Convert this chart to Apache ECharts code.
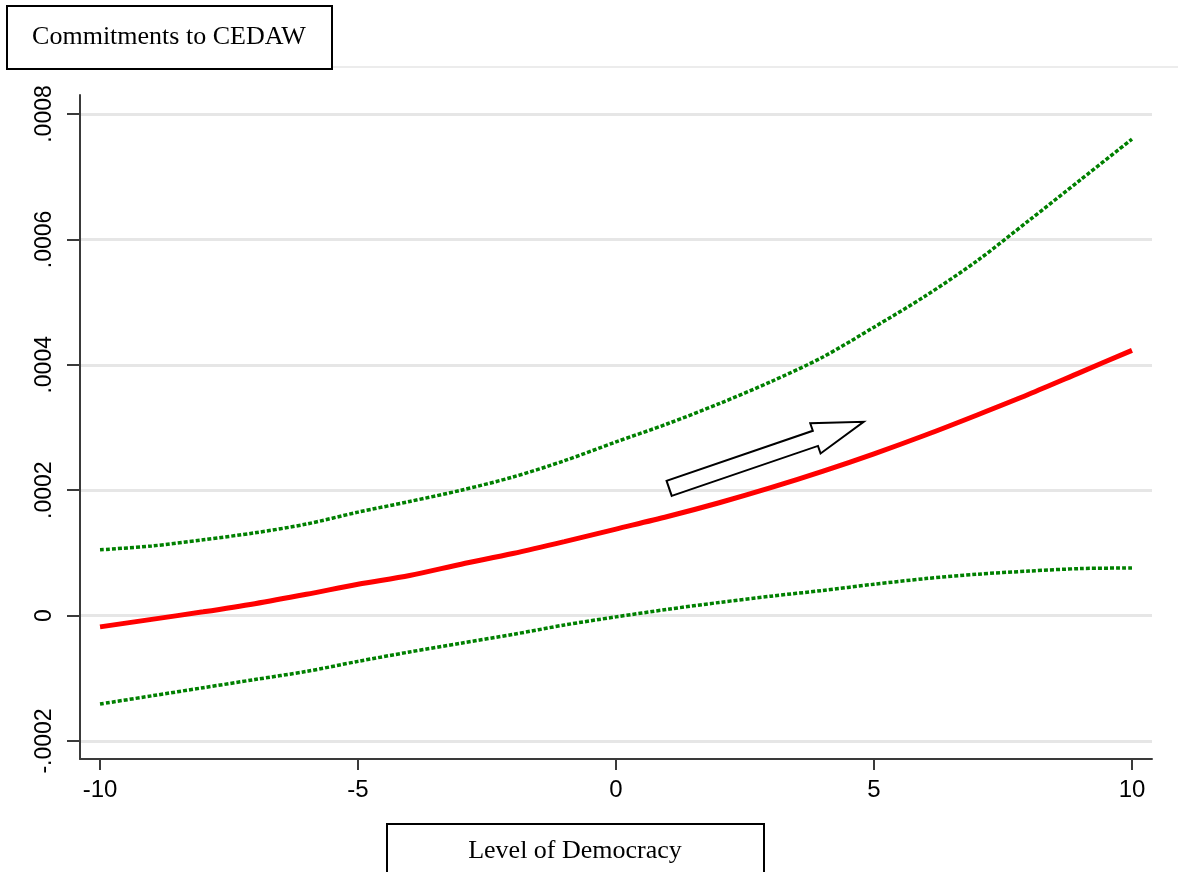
<!DOCTYPE html>
<html>
<head>
<meta charset="utf-8">
<script src="https://cdn.jsdelivr.net/npm/echarts@6/dist/echarts.min.js"></script>
<style>
html,body{margin:0;padding:0;background:#fff;}
#chart{width:1178px;height:872px;}
</style>
</head>
<body>
<div id="chart"></div>
<script>
// ---- data ----
const democracy = [-10,-9,-8,-7,-6,-5,-4,-3,-2,-1,0,1,2,3,4,5,6,7,8,9,10];
const predicted = [-0.000018,-0.000006,0.000006,0.000019,0.000034,0.000050,0.000064,0.000082,0.000099,0.000118,0.000138,0.000158,0.000180,0.000204,0.000230,0.000258,0.000288,0.000320,0.000353,0.000388,0.000423];
const upperCI  = [0.000105,0.000111,0.000121,0.000132,0.000146,0.000165,0.000182,0.000200,0.000221,0.000247,0.000277,0.000306,0.000338,0.000373,0.000412,0.000460,0.000510,0.000566,0.000630,0.000695,0.000760];
const lowerCI  = [-0.000141,-0.000128,-0.000115,-0.000102,-0.000089,-0.000073,-0.000058,-0.000044,-0.000030,-0.000015,-0.000002,0.000010,0.000021,0.000031,0.000040,0.000050,0.000059,0.000066,0.000071,0.000075,0.000076];
const xTicks = [-10,-5,0,5,10];
const yTicks = [-0.0002,0,0.0002,0.0004,0.0006,0.0008];
const yTickLabels = ['-.0002','0','.0002','.0004','.0006','.0008'];
const arrowFrom = [1.03, 0.000203];
const arrowTo = [4.80, 0.000309];
const titleText = 'Commitments to CEDAW';
const xTitleText = 'Level of Democracy';

const pairs = arr => democracy.map((x,i)=>[x,arr[i]]);

const chart = echarts.init(document.getElementById('chart'), null, {renderer:'canvas'});
const axisColor = '#3a3a3a';
const option = {
  backgroundColor:'#fff',
  animation:false,
  grid:{left:80,right:26,top:95,bottom:113,containLabel:false},
  xAxis:{
    type:'value', min:-10.388, max:10.388,
    axisLine:{show:true,onZero:false,lineStyle:{color:axisColor,width:2}},
    axisTick:{show:true,length:11,lineStyle:{color:axisColor,width:2},customValues:xTicks},
    axisLabel:{customValues:xTicks,margin:19,fontFamily:'Liberation Sans, Arial, sans-serif',fontSize:24,color:'#000',
      formatter:v=>String(Math.round(v))},
    splitLine:{show:false}
  },
  yAxis:{
    type:'value', min:-0.0002287, max:0.0008303,
    axisLine:{show:true,onZero:false,lineStyle:{color:axisColor,width:2}},
    axisTick:{show:true,length:13,lineStyle:{color:axisColor,width:2},customValues:yTicks},
    axisLabel:{customValues:yTicks,rotate:90,margin:24,fontFamily:'Liberation Sans, Arial, sans-serif',fontSize:23,color:'#000',
      formatter:v=>{let best=0;yTicks.forEach((t,i)=>{if(Math.abs(t-v)<Math.abs(yTicks[best]-v))best=i;});return yTickLabels[best];}},
    splitLine:{show:true,lineStyle:{color:'#e6e6e6',width:3}}
  },
  graphic:[
    {type:'line',shape:{x1:332,y1:67,x2:1178,y2:67},style:{stroke:'#ececec',lineWidth:2},z:1},
    {type:'rect',shape:{x:7,y:6,width:325,height:63},style:{fill:'#fff',stroke:'#000',lineWidth:2},z:2},
    {type:'text',x:169,y:37,style:{text:titleText,font:'26px "Liberation Serif", "Times New Roman", serif',fill:'#000',textAlign:'center',textVerticalAlign:'middle'},z:3},
    {type:'rect',shape:{x:387,y:824,width:377,height:60},style:{fill:'#fff',stroke:'#000',lineWidth:2},z:2},
    {type:'text',x:575,y:851,style:{text:xTitleText,font:'26px "Liberation Serif", "Times New Roman", serif',fill:'#000',textAlign:'center',textVerticalAlign:'middle'},z:3}
  ],
  series:[
    {type:'line',name:'upper',data:pairs(upperCI),symbol:'none',smooth:0.3,
      lineStyle:{color:'#008000',width:3.5,type:[4,2]},z:3},
    {type:'line',name:'lower',data:pairs(lowerCI),symbol:'none',smooth:0.3,
      lineStyle:{color:'#008000',width:3.5,type:[4,2]},z:3},
    {type:'line',name:'predicted',data:pairs(predicted),symbol:'none',smooth:0.3,
      lineStyle:{color:'#ff0000',width:5},z:4},
    {type:'custom',name:'arrow',clip:false,z:5,
      encode:{x:[0,2],y:[1,3]},
      data:[[arrowFrom[0],arrowFrom[1],arrowTo[0],arrowTo[1]]],
      renderItem:(params,api)=>{
        const a=api.coord([api.value(0),api.value(1)]);
        const b=api.coord([api.value(2),api.value(3)]);
        const dx=b[0]-a[0], dy=b[1]-a[1];
        const L=Math.sqrt(dx*dx+dy*dy);
        const ux=dx/L, uy=dy/L, nx=-uy, ny=ux;
        const sw=8, hw=16, hl=51;
        const bx=b[0]-ux*hl, by=b[1]-uy*hl;
        const pts=[
          [a[0]+nx*sw,a[1]+ny*sw],[bx+nx*sw,by+ny*sw],[bx+nx*hw,by+ny*hw],
          [b[0],b[1]],
          [bx-nx*hw,by-ny*hw],[bx-nx*sw,by-ny*sw],[a[0]-nx*sw,a[1]-ny*sw]
        ];
        return {type:'polygon',shape:{points:pts},style:{fill:'#fff',stroke:'#000',lineWidth:2}};
      }}
  ]
};
chart.setOption(option);
</script>
</body>
</html>
